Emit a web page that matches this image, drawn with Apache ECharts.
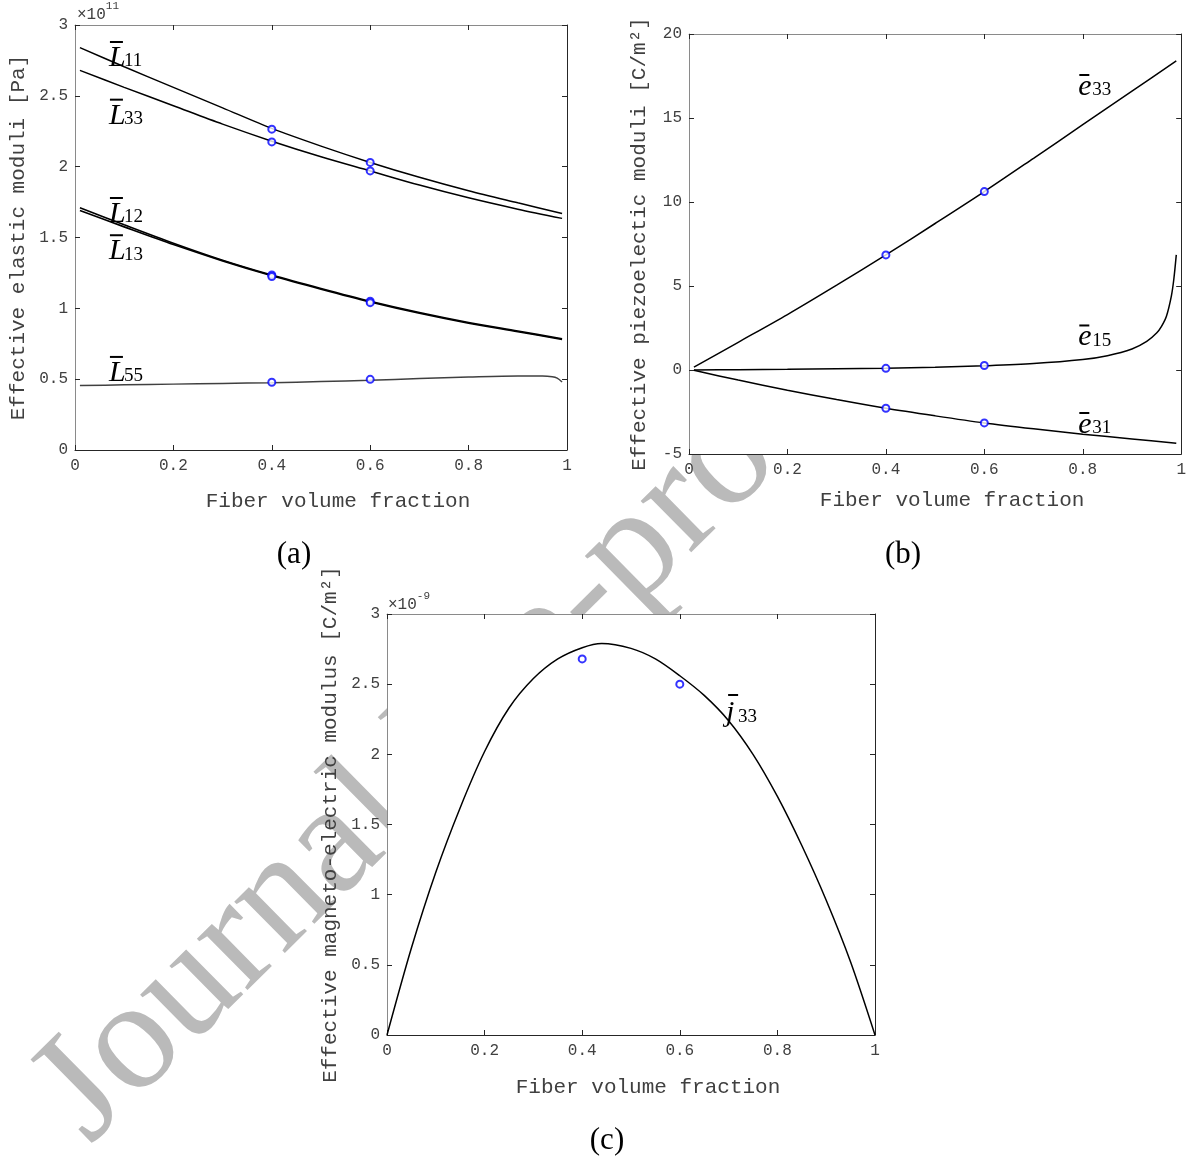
<!DOCTYPE html>
<html><head><meta charset="utf-8">
<script src="https://cdn.jsdelivr.net/npm/echarts@6/dist/echarts.min.js"></script>
<style>html,body{margin:0;padding:0;background:#fff}#c{width:1189px;height:1164px}</style>
</head><body><div id="c"></div>
<script>
// ---------------- data ----------------
// (a) effective elastic moduli, x 10^11 Pa
const xA = [0.01, 0.1, 0.2, 0.3, 0.4, 0.5, 0.6, 0.7, 0.8, 0.9, 0.99];
const L11 = [2.84, 2.705, 2.56, 2.415, 2.27, 2.145, 2.03, 1.925, 1.83, 1.745, 1.67];
const L33 = [2.68, 2.56, 2.43, 2.30, 2.18, 2.07, 1.97, 1.87, 1.78, 1.70, 1.635];
const L12 = [1.71, 1.59, 1.46, 1.34, 1.235, 1.14, 1.05, 0.97, 0.90, 0.84, 0.785];
const L13 = [1.69, 1.575, 1.45, 1.335, 1.23, 1.135, 1.045, 0.965, 0.895, 0.835, 0.78];
const xL55 = [0.01, 0.1, 0.2, 0.3, 0.4, 0.5, 0.6, 0.7, 0.8, 0.9, 0.95, 0.97, 0.98, 0.99];
const L55 = [0.455, 0.46, 0.465, 0.47, 0.475, 0.483, 0.492, 0.505, 0.515, 0.522, 0.522, 0.517, 0.507, 0.48];
const xMark = [0.4, 0.6];
const L11m = [2.265, 2.03];
const L33m = [2.175, 1.97];
const L12m = [1.235, 1.05];
const L13m = [1.225, 1.04];
const L55m = [0.478, 0.499];

// (b) effective piezoelectric moduli, C/m^2
const xB = [0.01, 0.1, 0.2, 0.3, 0.4, 0.5, 0.6, 0.7, 0.8, 0.9, 0.99];
const e33 = [0.17, 1.65, 3.3, 5.05, 6.85, 8.72, 10.62, 12.6, 14.6, 16.6, 18.4];
const e31 = [-0.02, -0.6, -1.2, -1.76, -2.28, -2.73, -3.15, -3.5, -3.82, -4.1, -4.36];
const xE15 = [0.01, 0.1, 0.2, 0.3, 0.4, 0.5, 0.6, 0.7, 0.8, 0.85, 0.9, 0.93, 0.95, 0.96, 0.97, 0.98, 0.985, 0.99];
const e15 = [0, 0.02, 0.04, 0.07, 0.1, 0.16, 0.25, 0.38, 0.62, 0.85, 1.25, 1.7, 2.2, 2.6, 3.2, 4.4, 5.4, 6.85];
const e33m = [6.85, 10.62];
const e15m = [0.1, 0.27];
const e31m = [-2.28, -3.15];

// (c) effective magneto-electric modulus, x 10^-9 C/m^2
const xC = [0, 0.05, 0.1, 0.15, 0.2, 0.25, 0.3, 0.35, 0.4, 0.44, 0.5, 0.55, 0.6, 0.65, 0.7, 0.75, 0.8, 0.85, 0.9, 0.95, 1.0];
const j33 = [0, 0.62, 1.16, 1.62, 2.02, 2.33, 2.54, 2.68, 2.76, 2.79, 2.755, 2.68, 2.56, 2.42, 2.24, 2.0, 1.70, 1.35, 0.96, 0.52, 0];
const j33m = [2.68, 2.5];

// curve labels: [letter, subscript, x, y] in data units (left end of the overbar)
const labelsA = [['L', '11', 0.071, 2.887], ['L', '33', 0.071, 2.48], ['L', '12', 0.071, 1.786], ['L', '13', 0.071, 1.523], ['L', '55', 0.071, 0.664]];
const labelsB = [['e', '33', 0.793, 17.62], ['e', '15', 0.793, 2.71], ['e', '31', 0.793, -2.5]];
const labelsC = [['j', '33', 0.699, 2.43]];

// ---------------- styles ----------------
const mono = '"Liberation Mono", "DejaVu Sans Mono", monospace';
const serif = '"Liberation Serif", "DejaVu Serif", serif';
const lightAx = '#8a8a8a', darkAx = '#262626', tickLbl = '#404040';
const letterFont = { L: { dx: -1, dy: 2, barW: 13, subDx: 14, subDy: 11 },
                     e: { dx: -1, dy: -2, barW: 10, subDx: 13, subDy: 7 },
                     j: { dx: -2, dy: 4, barW: 10, subDx: 10, subDy: 14 } };

const pairs = (xs, ys) => xs.map((x, i) => [x, ys[i]]);

function xAxes(g, gap) {
  return [
    { gridIndex: g, type: 'value', position: 'bottom', min: 0, max: 1, interval: 0.2,
      axisLine: { onZero: false, lineStyle: { color: darkAx, width: 1 } },
      axisTick: { inside: true, length: 5, lineStyle: { color: darkAx } },
      axisLabel: { margin: 8, color: tickLbl, fontFamily: mono, fontSize: 16,
        formatter: v => (v === 0 ? '0' : v === 1 ? '1' : v.toFixed(1)) },
      splitLine: { show: false },
      name: 'Fiber volume fraction', nameLocation: 'middle', nameGap: gap,
      nameTextStyle: { color: tickLbl, fontFamily: mono, fontSize: 21, padding: [0, 0, 0, 34] } },
    { gridIndex: g, type: 'value', position: 'top', min: 0, max: 1, interval: 0.2,
      axisLine: { onZero: false, lineStyle: { color: lightAx, width: 1 } },
      axisTick: { inside: true, length: 5, lineStyle: { color: darkAx } },
      axisLabel: { show: false }, splitLine: { show: false } }
  ];
}
function yAxes(g, min, max, interval, name, gap) {
  return [
    { gridIndex: g, type: 'value', position: 'left', min, max, interval,
      axisLine: { show: true, onZero: false, lineStyle: { color: lightAx, width: 1 } },
      axisTick: { show: true, inside: true, length: 5, lineStyle: { color: darkAx } },
      axisLabel: { margin: 7, color: tickLbl, fontFamily: mono, fontSize: 16 },
      splitLine: { show: false },
      name, nameLocation: 'middle', nameGap: gap,
      nameTextStyle: { color: tickLbl, fontFamily: mono, fontSize: 21 } },
    { gridIndex: g, type: 'value', position: 'right', min, max, interval,
      axisLine: { show: true, onZero: false, lineStyle: { color: darkAx, width: 1 } },
      axisTick: { show: true, inside: true, length: 5, lineStyle: { color: darkAx } },
      axisLabel: { show: false }, splitLine: { show: false } }
  ];
}

function curve(ax, xs, ys, color, width) {
  return { type: 'line', xAxisIndex: ax, yAxisIndex: ax, data: pairs(xs, ys), showSymbol: false,
    smooth: 0.3, lineStyle: { color: color || '#000', width: width || 1.5 },
    silent: true, z: 3 };
}
function marks(ax, ys) {
  return { type: 'scatter', xAxisIndex: ax, yAxisIndex: ax, data: pairs(xMark, ys),
    symbol: 'emptyCircle', symbolSize: 7, itemStyle: { color: '#0000ff', borderWidth: 1.6 },
    silent: true, z: 5 };
}

const staticGraphics = [
  { type: 'text', x: 116, y: 1172, rotation: 44.6 * Math.PI / 180, z: -10, silent: true,
    style: { text: 'Journal Pre-proof', font: '157px ' + serif, fill: '#bababa', align: 'left', verticalAlign: 'bottom' } },
  { type: 'text', left: 77, top: 1, silent: true,
    style: { rich: { a: { fontFamily: mono, fontSize: 16, fill: tickLbl, color: tickLbl, lineHeight: 22, verticalAlign: 'bottom' },
                     b: { fontFamily: mono, fontSize: 11, fill: tickLbl, color: tickLbl, lineHeight: 22, verticalAlign: 'top' } },
             text: '{a|×10}{b|11}' } },
  { type: 'text', left: 388, top: 591, silent: true,
    style: { rich: { a: { fontFamily: mono, fontSize: 16, fill: tickLbl, color: tickLbl, lineHeight: 22, verticalAlign: 'bottom' },
                     b: { fontFamily: mono, fontSize: 11, fill: tickLbl, color: tickLbl, lineHeight: 22, verticalAlign: 'top' } },
             text: '{a|×10}{b|-9}' } },
  { type: 'text', x: 294, y: 555, silent: true,
    style: { text: '(a)', font: '31px ' + serif, fill: '#000', align: 'center', verticalAlign: 'middle' } },
  { type: 'text', x: 903, y: 555, silent: true,
    style: { text: '(b)', font: '31px ' + serif, fill: '#000', align: 'center', verticalAlign: 'middle' } },
  { type: 'text', x: 607, y: 1141, silent: true,
    style: { text: '(c)', font: '31px ' + serif, fill: '#000', align: 'center', verticalAlign: 'middle' } }
];

const option = {
  animation: false,
  backgroundColor: '#fff',
  grid: [
    { left: 75, top: 25, width: 492, height: 425, show: true, backgroundColor: '#fff', borderWidth: 0 },
    { left: 689, top: 34, width: 494, height: 420, show: true, backgroundColor: '#fff', borderWidth: 0 },
    { left: 387, top: 614, width: 488, height: 421, show: true, backgroundColor: '#fff', borderWidth: 0 }
  ],
  xAxis: [...xAxes(0, 41), ...xAxes(1, 36), ...xAxes(2, 42)],
  yAxis: [
    ...yAxes(0, 0, 3, 0.5, 'Effective elastic moduli [Pa]', 46),
    ...yAxes(1, -5, 20, 5, 'Effective piezoelectic moduli [C/m²]', 39),
    ...yAxes(2, 0, 3, 0.5, 'Effective magneto-electric modulus [C/m²]', 46)
  ],
  graphic: staticGraphics,
  series: [
    curve(0, xA, L11), curve(0, xA, L33), curve(0, xA, L12, '#000', 1.6), curve(0, xA, L13, '#000', 1.6),
    curve(0, xL55, L55, '#404040', 1.5),
    marks(0, L11m), marks(0, L33m), marks(0, L12m), marks(0, L13m), marks(0, L55m),
    curve(2, xB, e33), curve(2, xE15, e15), curve(2, xB, e31),
    marks(2, e33m), marks(2, e15m), marks(2, e31m),
    curve(4, xC, j33),
    marks(4, j33m)
  ]
};
const chart = echarts.init(document.getElementById('c'), null, { renderer: 'canvas' });
chart.setOption(option);

// curve labels positioned through the axes' own scales
const labelEls = [];
[[0, labelsA], [2, labelsB], [4, labelsC]].forEach(([ax, arr]) => {
  arr.forEach(a => {
    const p = chart.convertToPixel({ xAxisIndex: ax, yAxisIndex: ax }, [a[2], a[3]]);
    const f = letterFont[a[0]];
    labelEls.push({ type: 'rect', silent: true, z: 10,
      shape: { x: p[0], y: p[1], width: f.barW, height: 2 }, style: { fill: '#000' } });
    labelEls.push({ type: 'text', silent: true, z: 10, x: p[0] + f.dx, y: p[1] + f.dy,
      style: { text: a[0], font: 'italic 30px ' + serif, fill: '#000', align: 'left', verticalAlign: 'top' } });
    labelEls.push({ type: 'text', silent: true, z: 10, x: p[0] + f.subDx, y: p[1] + f.subDy,
      style: { text: a[1], font: '19px ' + serif, fill: '#000', align: 'left', verticalAlign: 'top' } });
  });
});
chart.setOption({ graphic: staticGraphics.concat(labelEls) });
</script></body></html>
